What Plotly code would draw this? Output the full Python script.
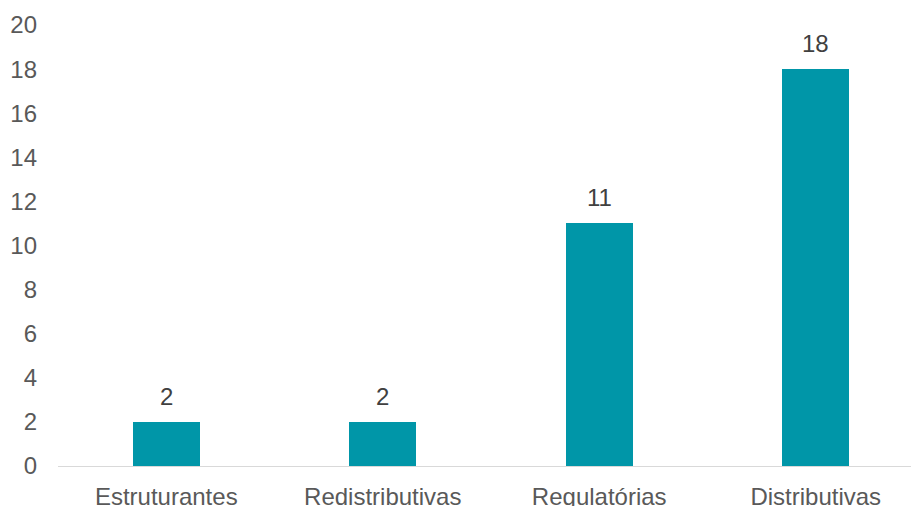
import plotly.graph_objects as go

categories = ["Estruturantes", "Redistributivas", "Regulatórias", "Distributivas"]
values = [2, 2, 11, 18]
y_ticks = [0, 2, 4, 6, 8, 10, 12, 14, 16, 18, 20]

FONT = "Liberation Sans, Arial"

fig = go.Figure(go.Bar(
    x=categories, y=values, width=0.31,
    marker=dict(color="#0096A8", line=dict(width=0)),
    hoverinfo="x+y",
))

for c, v in zip(categories, values):
    fig.add_annotation(x=c, y=v, text=str(v), showarrow=False, yanchor="bottom",
                       yshift=10, font=dict(family=FONT, size=24, color="#404040"))

fig.update_layout(
    width=911, height=506,
    margin=dict(l=58, r=0, t=25, b=40, autoexpand=False),
    paper_bgcolor="white", plot_bgcolor="white",
    font=dict(family=FONT, size=24, color="#595959"),
    showlegend=False,
    bargap=0,
)
fig.update_xaxes(range=[-0.5, 3.44], showline=True, linecolor="#D9D9D9", linewidth=1.3,
                 showgrid=False, ticks="", ticklabelstandoff=9, automargin=False)
fig.update_yaxes(range=[0, 20], tickvals=y_ticks, showgrid=False, zeroline=False,
                 showline=False, ticks="", ticklabelstandoff=20, automargin=False)

fig.write_html("out.html", config={"displayModeBar": False},
               post_script="document.body.style.margin='0';document.body.style.overflow='hidden';")
